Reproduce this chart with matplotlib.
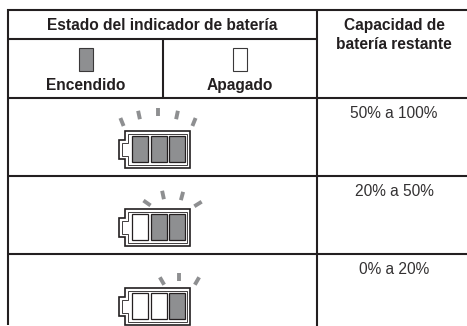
import math
import matplotlib
matplotlib.use("Agg")
import matplotlib.pyplot as plt
from matplotlib.patches import Rectangle, Polygon

W, H = 467, 326
header_main = "Estado del indicador de batería"
header_cap = "Capacidad de\nbatería restante"
state_labels = ["Encendido", "Apagado"]
capacities = ["50% a 100%", "20% a 50%", "0% a 20%"]
# Cell state of each battery, left to right: True = lit
cell_states = [[True, True, True], [False, True, True], [False, False, True]]

GREY = "#8e8f91"
DARK = "#231f20"

plt.rcParams["font.family"] = ["Liberation Sans", "DejaVu Sans"]
fig = plt.figure(figsize=(W / 100, H / 100), dpi=100)
ax = fig.add_axes([0, 0, 1, 1])
ax.set_xlim(0, W)
ax.set_ylim(H, 0)
ax.axis("off")

LW = 1.5


def line(x0, y0, x1, y1):
    ax.plot([x0, x1], [y0, y1], color=DARK, lw=LW, solid_capstyle="butt")


for y in (10, 98, 176, 254):
    line(7, y, 467, y)
line(8, 38.7, 316.7, 38.7)
line(8, 9, 8, 325)
line(316.7, 9, 316.7, 326)
line(163, 38.7, 163, 98)

BOLD = dict(ha="center", va="center", fontsize=11.2, fontweight="bold", color=DARK)
ax.text(162.5, 25.5, header_main, **BOLD)
ax.text(394, 35, header_cap, linespacing=1.3, **BOLD)
ax.text(86, 85, state_labels[0], **BOLD)
ax.text(239.5, 85.5, state_labels[1], **BOLD)
ax.add_patch(Rectangle((78.5, 47.5), 14, 23, fc=GREY, ec="#3a3839", lw=0.8))
ax.add_patch(Rectangle((233, 47.5), 14, 23, fc="white", ec="#3a3839", lw=0.8))

for cap, y in zip(capacities, (114, 191, 269)):
    ax.text(394, y, cap, ha="center", va="center", fontsize=11.2, color="#333132")


def outline(top, bottom, inset):
    left, right = 125 + inset, 190 - inset
    return [(left, top + inset), (right, top + inset), (right, bottom - inset), (left, bottom - inset),
            (left, bottom - 9 - inset), (119 + inset, bottom - 9 - inset),
            (119 + inset, top + 9 + inset), (left, top + 9 + inset)]


def battery(top, states, ticks):
    bottom = top + 37
    ax.add_patch(Polygon(outline(top, bottom, 0), closed=True, fc="white", ec=DARK, lw=1.2))
    ax.add_patch(Polygon(outline(top, bottom, 3), closed=True, fc="white", ec=DARK, lw=0.6))
    for i, lit in enumerate(states):
        ax.add_patch(Rectangle((132 + i * 18.5, top + 5), 16, 26,
                               fc=GREY if lit else "white", ec=DARK, lw=0.9))
    for x, dy, tilt in ticks:
        t = math.radians(tilt)
        dx_, dy_ = 4.3 * math.sin(t), 4.3 * math.cos(t)
        ax.plot([x - dx_, x + dx_], [top + dy + dy_, top + dy - dy_],
                color=GREY, lw=2.8, solid_capstyle="butt")


battery(131, cell_states[0], [(122, -9, -22), (139, -16, -12), (158, -19, 0), (177, -16, 12), (194, -9, 22)])
battery(209, cell_states[1], [(147, -6, -55), (163, -14, -12), (182, -13, 15), (198, -5, 58)])
battery(288, cell_states[2], [(162, -7, -30), (179, -11, 0), (197, -7, 30)])

fig.savefig("out.png", dpi=100)
